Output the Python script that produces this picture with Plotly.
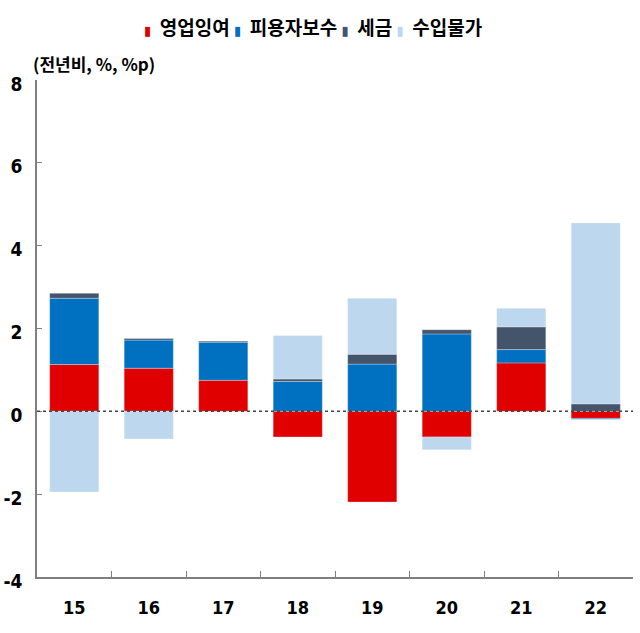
import plotly.graph_objects as go

years = ["15", "16", "17", "18", "19", "20", "21", "22"]
series_names = ["영업잉여", "피용자보수", "세금", "수입물가"]
operating_surplus = [1.13, 1.04, 0.75, -0.62, -2.19, -0.62, 1.17, -0.17]
compensation = [1.60, 0.68, 0.92, 0.72, 1.14, 1.87, 0.32, -0.02]
taxes = [0.12, 0.04, 0.03, 0.06, 0.24, 0.10, 0.55, 0.18]
import_prices = [-1.95, -0.67, 0.0, 1.05, 1.35, -0.31, 0.45, 4.37]
colors = ["#E00000", "#0070C0", "#44546A", "#BDD7EE"]
y_ticks = [-4, -2, 0, 2, 4, 6, 8]
y_tick_text = ["-4", "-2", "0", "2", "4", "6", "8"]

num_font = "DejaVu Sans Condensed, Liberation Sans Narrow, sans-serif"
kr_font = "Noto Sans CJK KR, sans-serif"

fig = go.Figure()
for name, vals, col in zip(series_names, [operating_surplus, compensation, taxes, import_prices], colors):
    fig.add_trace(go.Bar(x=years, y=vals, name=name,
                         marker=dict(color=col, line=dict(width=0.5, color="rgba(255,255,255,0.6)")),
                         width=0.66))

fig.add_shape(type="line", xref="paper", yref="y", x0=0, x1=1, y0=0, y1=0,
              line=dict(color="#444444", width=1.5, dash="dot"), layer="above")

# compact legend (as in the original) built from series names and colours
legend_parts = []
for name, col in zip(series_names, colors):
    legend_parts.append(
        f'<span style="color:{col};font-family:DejaVu Sans;font-size:13px">▮</span>'
        f'&nbsp;&nbsp;{name}'
    )
legend_text = "&nbsp;".join(legend_parts)
fig.add_annotation(text=legend_text, xref="paper", yref="paper", x=0.176, y=1.107,
                   xanchor="left", yanchor="middle", showarrow=False,
                   font=dict(family=kr_font, size=19, color="#000000", weight="bold"))

fig.add_annotation(text="(전년비, %, %p)", xref="paper", yref="paper", x=-0.01, y=1.034,
                   xanchor="left", yanchor="middle", showarrow=False,
                   font=dict(family=kr_font, size=17, color="#000000", weight="bold"))

fig.update_layout(
    width=640, height=633,
    barmode="relative",
    plot_bgcolor="white", paper_bgcolor="white",
    margin=dict(l=37, r=7, t=80, b=56, autoexpand=False),
    showlegend=False,
)

fig.update_xaxes(type="category", showline=True, linecolor="#7F7F7F", linewidth=1.5,
                 ticks="inside", tickson="boundaries", ticklen=6, tickcolor="#7F7F7F",
                 tickfont=dict(family=num_font, size=18, color="#000", weight="bold"),
                 showgrid=False, ticklabelstandoff=14, automargin=False)
fig.update_yaxes(range=[-4, 8], tickvals=y_ticks, ticktext=y_tick_text, showline=True,
                 linecolor="#7F7F7F", linewidth=1.5,
                 ticks="inside", ticklen=5, tickcolor="#7F7F7F",
                 tickfont=dict(family=num_font, size=19, color="#000", weight="bold"),
                 showgrid=False, zeroline=False, ticklabelstandoff=9, ticklabelshift=4,
                 automargin=False)

fig.write_html("out.html", config={"displayModeBar": False},
               post_script="document.body.style.margin='0';document.body.style.overflow='hidden';")
